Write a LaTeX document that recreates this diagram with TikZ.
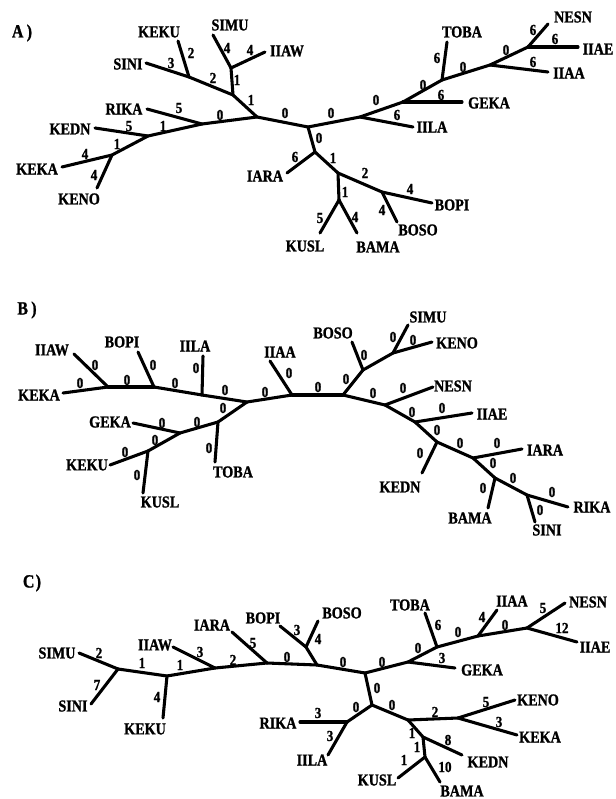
\documentclass[tikz,border=0pt]{standalone}
\usepackage{fontspec}
\setmainfont{Liberation Serif}[FakeStretch=0.85, BoldFeatures={FakeBold=1.2}]
\newcommand\tleaf[8]{%
  \coordinate (#1t) at (#3);
  \node[lab] (#1) at (#4) {#5};
  \draw[br] (#2) -- (#1t);
  \node[num] at (#6) {#7};}
\newcommand\tedge[4]{%
  \draw[br] (#1) -- (#2);
  \node[num] at (#3) {#4};}
\begin{document}
\begin{tikzpicture}[x=0.75pt,y=-0.75pt,
  br/.style={line width=2.3pt, line cap=round, line join=round},
  lab/.style={font=\fontsize{12.5}{12.5}\selectfont\bfseries, inner sep=0pt},
  num/.style={font=\fontsize{11.5}{11.5}\selectfont\bfseries, inner sep=0pt},
  panel/.style={font=\fontsize{14}{14}\selectfont\bfseries, inner sep=0pt}]
\useasboundingbox (0,0) rectangle (615,799);

% ---------------- Panel A ----------------
\node[panel] (A) at (22,33) {A\hspace{2.5pt})};
\coordinate (a1) at (189,77);
\coordinate (a2) at (233,95);
\coordinate (a3) at (231,68);
\coordinate (a4) at (257,117);
\coordinate (a5) at (202,124);
\coordinate (a6) at (148,136);
\coordinate (a7) at (112,155);
\coordinate (a8) at (308,127);
\coordinate (a9) at (315,152);
\coordinate (a10) at (338,173);
\coordinate (a11) at (339,200);
\coordinate (a12) at (382,192);
\coordinate (a13) at (360,117);
\coordinate (a14) at (403,102);
\coordinate (a15) at (442,80);
\coordinate (a16) at (490,65);
\coordinate (a17) at (528,47);

\tleaf{A-KEKU}{a1}{178,41}{159,32}{KEKU}{191,53}{2}{}
\tleaf{A-SINI}{a1}{146,63}{128,64}{SINI}{171,63}{3}{}
\tleaf{A-SIMU}{a3}{213,35}{230,25}{SIMU}{227,48}{4}{}
\tleaf{A-IIAW}{a3}{265,52}{287,51}{IIAW}{250,50}{4}{}
\tedge{a3}{a2}{237,80}{1}
\tedge{a1}{a2}{213,78}{2}
\tedge{a2}{a4}{251,100}{1}
\tedge{a4}{a5}{220,115}{0}
\tleaf{A-RIKA}{a5}{147,109}{124,109}{RIKA}{179,108}{5}{}
\tedge{a5}{a6}{163,126}{1}
\tleaf{A-KEDN}{a6}{95,128}{70,129}{KEDN}{129,126}{5}{}
\tedge{a6}{a7}{117,144}{1}
\tleaf{A-KEKA}{a7}{62,167}{37,169}{KEKA}{85,154}{4}{}
\tleaf{A-KENO}{a7}{97,188}{79,199}{KENO}{94,175}{4}{}
\tedge{a4}{a8}{285,113}{0}
\tedge{a8}{a13}{331,113}{0}
\tedge{a8}{a9}{319,138}{0}
\tleaf{A-IARA}{a9}{287,173}{265,176}{IARA}{295,157}{6}{}
\tedge{a9}{a10}{333,158}{1}
\tedge{a10}{a11}{345,192}{1}
\tleaf{A-KUSL}{a11}{320,233}{305,246}{KUSL}{320,218}{5}{}
\tleaf{A-BAMA}{a11}{357,233}{378,247}{BAMA}{355,217}{4}{}
\tedge{a10}{a12}{365,173}{2}
\tleaf{A-BOPI}{a12}{432,203}{452,205}{BOPI}{410,189}{4}{}
\tleaf{A-BOSO}{a12}{397,222}{418,230}{BOSO}{382,210}{4}{}
\tleaf{A-IILA}{a13}{413,127}{432,127}{IILA}{397,115}{6}{}
\tedge{a13}{a14}{376,100}{0}
\tleaf{A-GEKA}{a14}{462,102}{489,103}{GEKA}{441,95}{6}{}
\tedge{a14}{a15}{423,85}{0}
\tleaf{A-TOBA}{a15}{447,42}{462,32}{TOBA}{437,58}{6}{}
\tedge{a15}{a16}{463,67}{0}
\tleaf{A-IIAA}{a16}{548,72}{569,73}{IIAA}{533,62}{6}{}
\tedge{a16}{a17}{506,50}{0}
\tleaf{A-NESN}{a17}{548,24}{573,17}{NESN}{533,30}{6}{}
\tleaf{A-IIAE}{a17}{578,47}{598,49}{IIAE}{555,39}{6}{}

% ---------------- Panel B ----------------
\node[panel] (B) at (27,310) {B\hspace{2.5pt})};
\coordinate (b1) at (108,387);
\coordinate (b2) at (154,387);
\coordinate (b3) at (202,395);
\coordinate (b4) at (247,402);
\coordinate (b5) at (218,422);
\coordinate (b6) at (180,433);
\coordinate (b7) at (148,451);
\coordinate (b8) at (292,395);
\coordinate (b9) at (343,395);
\coordinate (b10) at (363,370);
\coordinate (b11) at (393,353);
\coordinate (b12) at (385,405);
\coordinate (b13) at (415,422);
\coordinate (b14) at (437,442);
\coordinate (b15) at (473,458);
\coordinate (b16) at (495,478);
\coordinate (b17) at (527,495);

\tleaf{B-KEKA}{b1}{63,393}{39,395}{KEKA}{80,383}{0}{}
\tleaf{B-IIAW}{b1}{74,354}{52,350}{IIAW}{95,365}{0}{}
\tedge{b1}{b2}{127,380}{0}
\tleaf{B-BOPI}{b2}{138,352}{122,342}{BOPI}{153,365}{0}{}
\tedge{b2}{b3}{175,383}{0}
\tleaf{B-IILA}{b3}{203,356}{195,346}{IILA}{196,368}{0}{}
\tedge{b3}{b4}{225,390}{0}
\tedge{b4}{b5}{223,408}{0}
\tleaf{B-TOBA}{b5}{215,462}{233,472}{TOBA}{209,448}{0}{}
\tedge{b5}{b6}{197,422}{0}
\tleaf{B-GEKA}{b6}{133,423}{110,422}{GEKA}{162,423}{0}{}
\tedge{b6}{b7}{155,440}{0}
\tleaf{B-KEKU}{b7}{110,465}{87,465}{KEKU}{125,452}{0}{}
\tleaf{B-KUSL}{b7}{143,493}{160,502}{KUSL}{137,475}{0}{}
\tedge{b4}{b8}{265,392}{0}
\tleaf{B-IIAA}{b8}{270,361}{280,352}{IIAA}{289,373}{0}{}
\tedge{b8}{b9}{318,387}{0}
\tedge{b9}{b10}{346,379}{0}
\tleaf{B-BOSO}{b10}{352,342}{333,333}{BOSO}{364,355}{0}{}
\draw[br] (b10) -- (b11);
\tleaf{B-SIMU}{b11}{408,325}{428,317}{SIMU}{393,337}{0}{}
\tleaf{B-KENO}{b11}{432,342}{457,343}{KENO}{413,340}{0}{}
\tedge{b9}{b12}{373,393}{0}
\tleaf{B-NESN}{b12}{433,387}{453,386}{NESN}{403,388}{0}{}
\tedge{b12}{b13}{412,412}{0}
\tleaf{B-IIAE}{b13}{472,413}{492,414}{IIAE}{442,408}{0}{}
\tedge{b13}{b14}{437,430}{0}
\tleaf{B-KEDN}{b14}{422,473}{400,487}{KEDN}{420,453}{0}{}
\tedge{b14}{b15}{460,443}{0}
\tleaf{B-IARA}{b15}{522,449}{545,450}{IARA}{497,443}{0}{}
\tedge{b15}{b16}{493,463}{0}
\tleaf{B-BAMA}{b16}{488,508}{470,518}{BAMA}{483,488}{0}{}
\tedge{b16}{b17}{513,478}{0}
\tleaf{B-RIKA}{b17}{568,507}{592,507}{RIKA}{552,492}{0}{}
\tleaf{B-SINI}{b17}{535,522}{547,530}{SINI}{540,510}{0}{}

% ---------------- Panel C ----------------
\node[panel] (C) at (32,583) {C\hspace{1pt})};
\coordinate (c1) at (118,669);
\coordinate (c2) at (167,676);
\coordinate (c3) at (215,668);
\coordinate (c4) at (267,663);
\coordinate (c5) at (317,665);
\coordinate (c6) at (306,647);
\coordinate (c7) at (365,673);
\coordinate (c8) at (408,662);
\coordinate (c9) at (437,647);
\coordinate (c10) at (478,636);
\coordinate (c11) at (527,628);
\coordinate (c12) at (372,705);
\coordinate (c13) at (347,722);
\coordinate (c14) at (408,720);
\coordinate (c15) at (458,718);
\coordinate (c16) at (423,737);
\coordinate (c17) at (425,757);

\tleaf{C-SIMU}{c1}{79,653}{57,653}{SIMU}{99,653}{2}{}
\tleaf{C-SINI}{c1}{91,704}{73,706}{SINI}{97,685}{7}{}
\tedge{c1}{c2}{142,663}{1}
\tleaf{C-KEKU}{c2}{163,718}{145,729}{KEKU}{157,697}{4}{}
\tedge{c2}{c3}{180,665}{1}
\tleaf{C-IIAW}{c3}{173,647}{155,645}{IIAW}{200,652}{3}{}
\tedge{c3}{c4}{233,660}{2}
\tleaf{C-IARA}{c4}{232,632}{212,625}{IARA}{253,643}{5}{}
\tedge{c4}{c5}{287,657}{0}
\draw[br] (c6) -- (c5);
\tleaf{C-BOPI}{c6}{280,626}{263,618}{BOPI}{297,630}{3}{}
\tleaf{C-BOSO}{c6}{318,621}{342,613}{BOSO}{318,639}{4}{}
\tedge{c5}{c7}{343,662}{0}
\tedge{c7}{c8}{382,662}{0}
\tleaf{C-GEKA}{c8}{455,668}{482,670}{GEKA}{442,658}{3}{}
\tedge{c8}{c9}{418,648}{0}
\tleaf{C-TOBA}{c9}{425,613}{410,605}{TOBA}{438,625}{6}{}
\tedge{c9}{c10}{458,632}{0}
\tleaf{C-IIAA}{c10}{497,610}{512,601}{IIAA}{482,617}{4}{}
\tedge{c10}{c11}{505,625}{0}
\tleaf{C-NESN}{c11}{565,603}{588,602}{NESN}{543,608}{5}{}
\tleaf{C-IIAE}{c11}{577,642}{595,647}{IIAE}{562,628}{12}{}
\tedge{c7}{c12}{377,688}{0}
\tedge{c12}{c13}{356,707}{0}
\tleaf{C-RIKA}{c13}{300,722}{278,723}{RIKA}{318,713}{3}{}
\tleaf{C-IILA}{c13}{328,755}{312,760}{IILA}{330,736}{3}{}
\tedge{c12}{c14}{392,705}{0}
\tedge{c14}{c15}{435,712}{2}
\tleaf{C-KENO}{c15}{515,700}{538,700}{KENO}{486,702}{5}{}
\tleaf{C-KEKA}{c15}{517,735}{540,737}{KEKA}{499,722}{3}{}
\tedge{c14}{c16}{412,733}{1}
\tleaf{C-KEDN}{c16}{462,755}{488,762}{KEDN}{448,740}{8}{}
\tedge{c16}{c17}{417,747}{1}
\tleaf{C-KUSL}{c17}{398,778}{377,780}{KUSL}{404,760}{1}{}
\tleaf{C-BAMA}{c17}{440,782}{462,791}{BAMA}{445,767}{10}{}
\end{tikzpicture}
\end{document}
